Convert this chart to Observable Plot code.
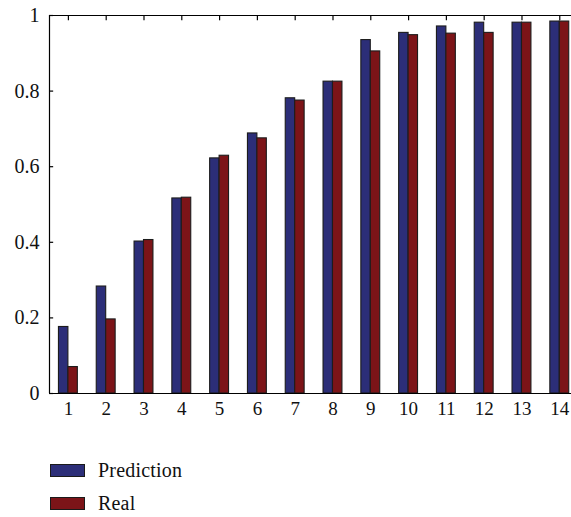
<!DOCTYPE html>
<html>
<head>
<meta charset="utf-8">
<script src="https://cdn.jsdelivr.net/npm/d3@7"></script>
<script src="https://cdn.jsdelivr.net/npm/@observablehq/plot@0.6"></script>
<style>
  html, body { margin: 0; padding: 0; background: #fff; }
  #wrap { position: relative; width: 571px; height: 517px; font-family: 'Liberation Serif', serif; }
  .leg { position: absolute; left: 50px; display: flex; align-items: center; font-family: 'Liberation Serif', serif; font-size: 20px; letter-spacing: 0.2px; color: #111; }
  .sw { width: 33px; height: 11px; border: 1px solid #1a1a1a; margin-right: 13px; }
  svg text { font-family: 'Liberation Serif', serif; }
</style>
</head>
<body>
<div id="wrap"></div>
<script>
const categories = [1,2,3,4,5,6,7,8,9,10,11,12,13,14];
const prediction = [0.176,0.283,0.402,0.516,0.622,0.688,0.781,0.825,0.935,0.954,0.971,0.981,0.981,0.984];
const real       = [0.070,0.196,0.406,0.518,0.629,0.675,0.775,0.825,0.905,0.948,0.952,0.954,0.981,0.984];
const yTicks = [0, 0.2, 0.4, 0.6, 0.8, 1];
const seriesNames = ["Prediction", "Real"];
const seriesColors = ["#2c2e78", "#7c1418"];

const rows = [];
categories.forEach((c, i) => {
  rows.push({cat: c, series: seriesNames[0], value: prediction[i], x1: c - 0.25, x2: c});
  rows.push({cat: c, series: seriesNames[1], value: real[i], x1: c, x2: c + 0.25});
});

const chart = Plot.plot({
  width: 571,
  height: 440,
  marginLeft: 49,
  marginRight: 0,
  marginTop: 15,
  marginBottom: 47,
  style: "font-family: 'Liberation Serif', serif; font-size: 19px; background: #fff; color: #111;",
  x: {type: "linear", domain: [0.5, 14.31]},
  y: {domain: [0, 1]},
  color: {domain: seriesNames, range: seriesColors},
  marks: [
    Plot.rect(rows, {x1: "x1", x2: "x2", y1: 0, y2: "value", fill: "series", stroke: "#1c1c1c", strokeWidth: 1.1}),
    Plot.ruleY([0], {stroke: "#000", strokeWidth: 1.2}),
    Plot.ruleY([1], {stroke: "#000", strokeWidth: 1.2}),
    Plot.ruleX([0.5], {stroke: "#000", strokeWidth: 1.2}),
    Plot.ruleY(yTicks, {y: d => d, x1: 0.5, x2: 0.5 + 0.11, stroke: "#000", strokeWidth: 1.2}),
    Plot.ruleX(categories, {x: d => d, y1: 1, y2: 0.986, stroke: "#000", strokeWidth: 1.2}),
    Plot.axisY({ticks: yTicks, tickSize: 0, tickPadding: 10, tickFormat: d => String(d), label: null, fontSize: 20}),
    Plot.axisX({ticks: categories, tickSize: 0, tickPadding: 8, tickFormat: d => String(d), label: null, fontSize: 19})
  ]
});
const wrap = document.getElementById("wrap");
wrap.appendChild(chart);

const legTops = [465, 498];
seriesNames.forEach((name, i) => {
  const item = document.createElement("div");
  item.className = "leg";
  item.style.top = (legTops[i] - 6) + "px";
  const sw = document.createElement("div");
  sw.className = "sw";
  sw.style.background = seriesColors[i];
  const tx = document.createElement("span");
  tx.textContent = name;
  item.appendChild(sw);
  item.appendChild(tx);
  wrap.appendChild(item);
});
</script>
</body>
</html>
